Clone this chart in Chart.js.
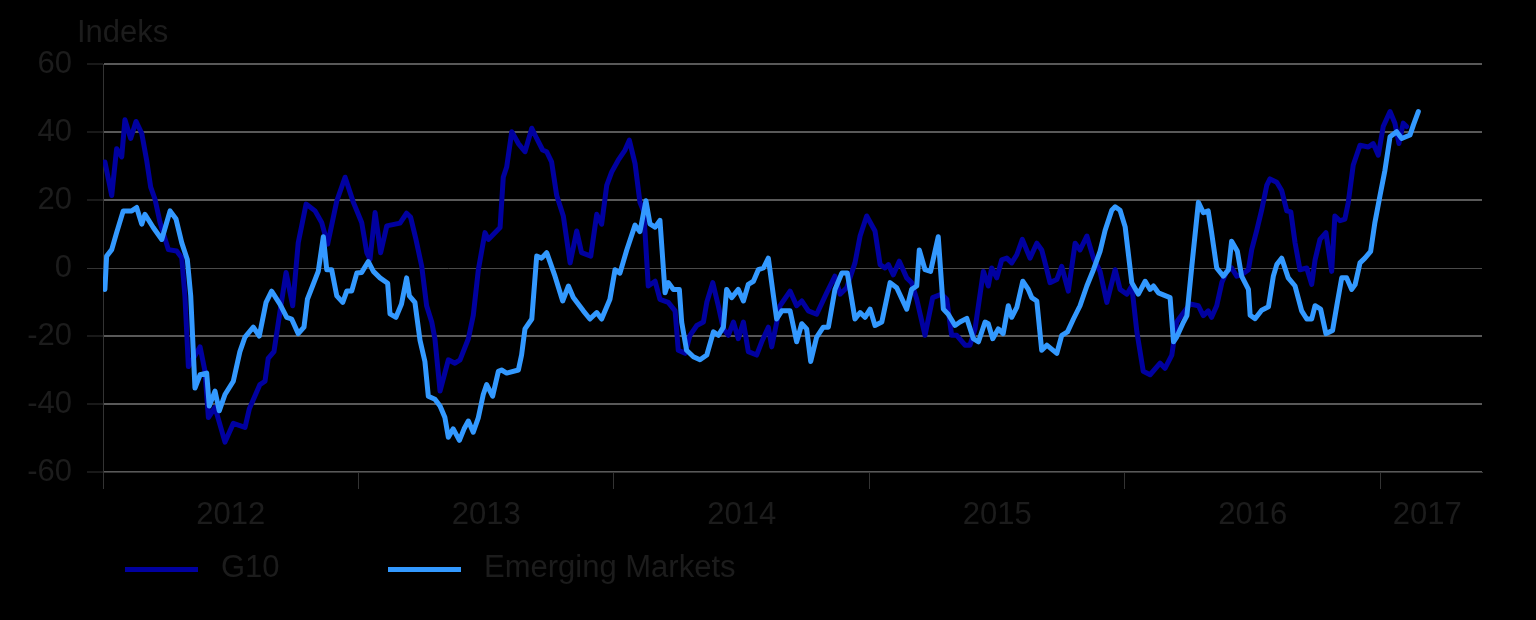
<!DOCTYPE html>
<html>
<head>
<meta charset="utf-8">
<script src="https://cdn.jsdelivr.net/npm/chart.js@4.4.1/dist/chart.umd.min.js"></script>
<style>
  html, body { margin: 0; padding: 0; background: #000; }
  #wrap { width: 1536px; height: 620px; }
</style>
</head>
<body>
<div id="wrap"><canvas id="indeks" width="1536" height="620"></canvas></div>
<script>
// months since Jan 2012 (x) and index values (y)
var g10Month = [0.09,0.41,0.64,0.88,1.03,1.30,1.55,1.82,2.05,2.24,2.44,2.68,3.07,3.46,3.70,3.85,4.01,4.56,4.79,4.95,5.26,5.73,6.12,6.67,6.87,7.37,7.61,7.76,8.03,8.31,8.60,8.91,9.17,9.54,9.96,10.27,10.55,10.98,11.37,11.76,12.15,12.39,12.54,12.78,13.04,13.33,13.95,14.26,14.45,14.70,14.97,15.20,15.44,15.59,15.83,16.22,16.53,16.77,17.16,17.39,17.63,17.94,18.10,18.65,18.80,18.96,19.20,19.51,19.82,20.14,20.37,20.65,20.84,21.07,21.31,21.62,21.94,22.25,22.48,22.91,23.19,23.42,23.66,23.89,24.20,24.52,24.72,24.99,25.22,25.40,25.61,25.93,26.16,26.55,26.87,27.02,27.34,27.57,27.89,28.20,28.36,28.64,28.90,29.14,29.37,29.61,29.84,30.08,30.31,30.70,30.94,31.25,31.41,31.80,32.27,32.58,32.82,33.13,33.52,33.99,34.38,34.62,34.93,35.32,35.56,35.87,36.26,36.50,36.73,36.89,37.12,37.40,37.75,37.98,38.22,38.61,38.97,39.39,39.63,39.86,40.10,40.49,40.72,40.96,41.35,41.58,41.74,41.98,42.21,42.45,42.68,42.92,43.18,43.54,43.86,44.09,44.25,44.48,44.80,45.03,45.34,45.66,45.89,46.21,46.52,46.83,47.15,47.54,47.77,48.09,48.32,48.56,48.86,49.18,49.65,49.88,50.20,50.43,50.59,51.06,51.45,51.68,51.91,52.07,52.31,52.55,52.78,53.01,53.25,53.48,53.80,53.95,54.19,54.42,54.66,54.81,55.13,55.36,55.60,55.79,55.99,56.22,56.54,56.77,56.93,57.16,57.44,57.71,57.86,58.10,58.33,58.49,58.72,59.04,59.43,59.66,59.90,60.13,60.45,60.68,60.87,61.07,61.23]
var g10Value = [31.2,21.3,35.1,32.7,43.6,38.1,43.1,39.6,31.7,23.8,20.3,13.4,5.4,5.0,3.0,-8.4,-29,-23.2,-30.4,-44,-41,-51.2,-45.7,-46.9,-41.5,-34.3,-33.3,-26.6,-24.6,-13,-1.3,-11.1,7.4,18.8,16.8,13.4,7,19.7,26.7,19.3,13.4,4.5,2.5,16.3,4.5,12.4,13.2,16.1,14.9,8.4,0.5,-11.1,-15.9,-20.8,-36.2,-27,-28,-27,-20.8,-14,-0.5,10.4,8.4,11.9,26.7,29.7,40.1,36.6,34.2,41.1,38.1,34.7,34.2,31.2,21.3,15.3,1.5,10.9,4.5,3.5,15.8,12.9,24.3,28.2,31.7,34.7,37.6,30.7,19.3,16.5,-5.3,-3.9,-9.2,-10.1,-12.6,-24.2,-25.1,-19.8,-16.9,-15.9,-10.1,-4.3,-11.1,-17.9,-19.8,-15.9,-20.8,-15.9,-24.6,-25.6,-21.7,-17.4,-23.2,-11.1,-6.8,-11.1,-9.7,-12.6,-13.6,-7.3,-2.4,-7.7,-5.8,1.5,9.4,15.3,10.9,1,0,1,-2,2,-2.9,-4.3,-9.2,-19.8,-8.7,-7.7,-9.2,-19.8,-19.8,-22.7,-22.7,-17.9,-1,-5.3,0,-2.9,2.4,2.9,1.5,3.9,8.4,2.9,7.3,5.3,1.5,-4.3,-3.4,0.5,-6.8,7.3,5.3,9.4,2.9,-1,-10.1,-0.5,-6.3,-7.7,-5.3,-18.8,-30.4,-31.4,-28,-29.5,-25.6,-15.9,-14.5,-10.6,-11.1,-14,-12.6,-14.5,-11.1,-4.3,-1,0,-2.4,-2,-0.5,5.3,11.1,17,24.3,26.2,25.2,22.8,16.8,16.5,7.4,-0.5,0,-4.8,2.4,8.4,10.4,-1,15.3,13.9,14.4,19.3,30.2,36.1,35.6,36.6,33.2,41.6,46,42.6,36.6,42.6,41.6]

var emMonth = [0.09,0.17,0.41,0.64,0.95,1.35,1.58,1.82,1.97,2.36,2.76,3.15,3.43,3.70,3.96,4.12,4.32,4.56,4.87,4.99,5.26,5.46,5.73,6.12,6.43,6.67,7.06,7.34,7.66,7.92,8.31,8.63,8.86,9.17,9.44,9.60,10.11,10.35,10.51,10.74,10.98,11.26,11.45,11.68,11.92,12.15,12.46,12.70,13.01,13.37,13.48,13.76,14.02,14.26,14.39,14.65,14.89,15.12,15.28,15.59,15.83,16.06,16.22,16.45,16.74,16.96,17.16,17.39,17.63,17.86,18.02,18.30,18.57,18.72,18.96,19.51,19.66,19.82,20.14,20.37,20.60,20.84,21.23,21.59,21.86,22.09,22.56,22.87,23.19,23.42,23.81,24.05,24.28,24.60,24.99,25.22,25.50,25.69,25.93,26.16,26.40,26.55,26.79,27.07,27.18,27.41,27.73,28.04,28.36,28.67,28.90,29.14,29.29,29.53,29.84,30.08,30.31,30.55,30.78,31.02,31.25,31.49,31.64,31.88,32.27,32.58,32.82,33.05,33.24,33.52,33.83,34.07,34.38,34.70,34.96,35.32,35.56,35.79,36.03,36.26,36.58,36.97,37.28,37.75,37.98,38.22,38.34,38.61,38.87,39.23,39.47,39.70,40.02,40.25,40.57,40.88,41.12,41.43,41.58,41.79,42.05,42.28,42.52,42.68,42.92,43.20,43.46,43.62,43.86,44.09,44.33,44.80,45.03,45.30,45.58,45.89,46.21,46.52,46.83,47.07,47.38,47.54,47.77,48.01,48.32,48.63,48.95,49.18,49.34,49.57,50.12,50.28,50.43,50.75,50.91,51.14,51.45,51.68,51.91,52.07,52.31,52.62,52.86,53.01,53.28,53.48,53.80,53.88,54.11,54.42,54.74,54.97,55.13,55.36,55.67,55.99,56.30,56.54,56.77,56.93,57.19,57.44,57.75,57.95,58.18,58.41,58.65,58.81,59.04,59.27,59.54,59.74,59.98,60.21,60.45,60.76,61.00,61.39,61.55,61.78]
var emValue = [-6.3,3.5,5.4,10.4,16.8,16.8,17.8,12.9,15.8,11.9,8.4,16.8,14.4,7.4,2.5,-8.2,-35.3,-31.4,-30.9,-40.6,-36.2,-42,-37.2,-33.3,-24.6,-20.3,-17.4,-20,-10.1,-6.8,-10.6,-14.5,-15,-19.3,-17.4,-9.2,-1,9.2,-0.5,-0.5,-8.2,-10.1,-6.8,-6.8,-1.5,-1.3,1.9,-1,-2.9,-4.5,-13.5,-14.5,-10.6,-2.9,-8.2,-10.1,-21.3,-27.5,-37.7,-38.6,-40.6,-44,-49.8,-47.3,-50.7,-47.3,-45,-48.3,-44,-37.2,-34.3,-37.7,-30.4,-30,-30.9,-30,-25.6,-17.9,-15,3.5,2.9,4.5,-2.4,-9.7,-5.3,-8.7,-12.6,-15,-13.1,-15,-9.2,-0.5,-1.5,5.3,12.6,10.7,19.8,13,12,14,-7.3,-4.3,-6.3,-6.3,-15.9,-24.2,-26.1,-27,-25.6,-18.8,-19.8,-17.4,-6.3,-8.7,-6.3,-9.7,-4.8,-3.9,-0.5,0,2.9,-8.2,-15,-12.6,-12.6,-21.7,-16.4,-17.9,-27.5,-20.3,-17.4,-17.4,-6.3,-1.5,-1.5,-15,-13.1,-14.5,-12.1,-16.9,-15.9,-4.3,-5.8,-12.1,-6.3,-5.3,5.3,-0.5,-1,9.2,-12.1,-13.6,-16.9,-15.9,-14.8,-20.8,-21.7,-15.9,-16.4,-20.8,-17.9,-19.3,-11.1,-14.5,-11.6,-3.9,-6.3,-8.7,-9.7,-24.2,-22.7,-25.1,-19.8,-18.8,-15,-11.1,-5.3,-0.5,4.9,11.1,17,18,17,12.1,-4.3,-7.7,-3.9,-6.3,-5.3,-7.3,-8.7,-21.7,-20.3,-15.9,-14,0.5,19.3,16.3,16.8,10.4,0,-2.4,-0.5,7.9,4.9,-2.4,-6.3,-13.9,-14.9,-12.4,-11.4,-2.4,1,2.9,-2.9,-5.3,-12.6,-15,-15,-11.1,-12.1,-19.3,-18.4,-11.1,-2.9,-2.9,-6.3,-4.9,1.5,2.9,4.9,13.4,21.3,28.7,38.6,40.1,38.1,39.1,42.1,46]

var yearLabels = ['2012','2013','2014','2015','2016','2017']
var yearLabelPos = [6, 18, 30, 42, 54, 62.2]
var yearBounds = [0, 12, 24, 36, 48, 60]
var yTicks = [-60, -40, -20, 0, 20, 40, 60]

var textColor = '#1c1c1c'
var axisColor = '#333333'
var gridColor = '#595959'
var font = { family: "'Liberation Sans', Arial, sans-serif", size: 31 }

function pts(xs, ys) {
  var out = []
  for (var i = 0; i < xs.length; i++) out.push({ x: xs[i], y: ys[i] })
  return out
}

// background, "Indeks" heading and a line-style legend
var extras = {
  id: 'extras',
  beforeDraw: function(chart) {
    var c = chart.ctx
    c.save()
    c.fillStyle = '#000'
    c.fillRect(0, 0, chart.width, chart.height)
    c.restore()
  },
  afterDraw: function(chart) {
    var c = chart.ctx
    c.save()
    c.font = font.size + 'px ' + font.family
    c.fillStyle = textColor
    c.textBaseline = 'alphabetic'
    c.fillText('Indeks', 77, 42)

    var items = [
      { ds: chart.data.datasets[1], x: 125 },
      { ds: chart.data.datasets[0], x: 388 }
    ]
    items.forEach(function(it) {
      c.strokeStyle = it.ds.borderColor
      c.lineWidth = 5
      c.lineCap = 'butt'
      c.beginPath()
      c.moveTo(it.x, 569.5)
      c.lineTo(it.x + 73, 569.5)
      c.stroke()
      c.fillStyle = textColor
      c.fillText(it.ds.label, it.x + 96, 577)
    })
    c.restore()
  }
}

const ctx = document.getElementById('indeks')

new Chart(ctx, {
  type: 'line',
  data: {
    datasets: [{
      label: 'Emerging Markets',
      data: pts(emMonth, emValue),
      borderColor: '#3399ff',
      borderWidth: 5,
      pointRadius: 0,
      tension: 0,
      fill: false,
      borderJoinStyle: 'round',
      borderCapStyle: 'round',
      order: 0
    }, {
      label: 'G10',
      data: pts(g10Month, g10Value),
      borderColor: '#0000a0',
      borderWidth: 5,
      pointRadius: 0,
      tension: 0,
      fill: false,
      borderJoinStyle: 'round',
      borderCapStyle: 'round',
      order: 1
    }]
  },
  options: {
    responsive: false,
    animation: false,
    layout: { padding: { top: 64, right: 54, bottom: 0, left: 0 } },
    plugins: { legend: { display: false }, tooltip: { enabled: false } },
    scales: {
      x: {
        type: 'linear',
        min: 0,
        max: 64.77,
        afterBuildTicks: function(s) {
          s.ticks = yearBounds.concat(yearLabelPos).sort(function(a, b) { return a - b }).map(function(v) { return { value: v } })
        },
        afterFit: function(s) { s.height = 148 },
        ticks: {
          autoSkip: false,
          maxRotation: 0,
          padding: 8,
          color: textColor,
          font: font,
          callback: function(v) {
            var i = yearLabelPos.indexOf(v)
            return i >= 0 ? yearLabels[i] : ''
          }
        },
        grid: {
          drawOnChartArea: false,
          tickLength: 17,
          tickWidth: 1,
          tickColor: function(c) {
            return c.tick && yearBounds.indexOf(c.tick.value) >= 0 ? axisColor : 'rgba(0,0,0,0)'
          }
        },
        border: { color: axisColor, width: 1 }
      },
      y: {
        min: -60,
        max: 60,
        afterBuildTicks: function(s) { s.ticks = yTicks.map(function(v) { return { value: v } }) },
        afterFit: function(s) { s.width = 103 },
        ticks: { color: textColor, font: font, padding: 15 },
        grid: {
          color: function(c) { return c.tick && c.tick.value === 0 ? '#4a4a4a' : gridColor },
          lineWidth: function(c) { return c.tick && c.tick.value === 0 ? 1 : 2 },
          tickLength: 16,
          tickColor: axisColor,
          tickWidth: 1
        },
        border: { color: axisColor, width: 1 }
      }
    }
  },
  plugins: [extras]
})
</script>
</body>
</html>
